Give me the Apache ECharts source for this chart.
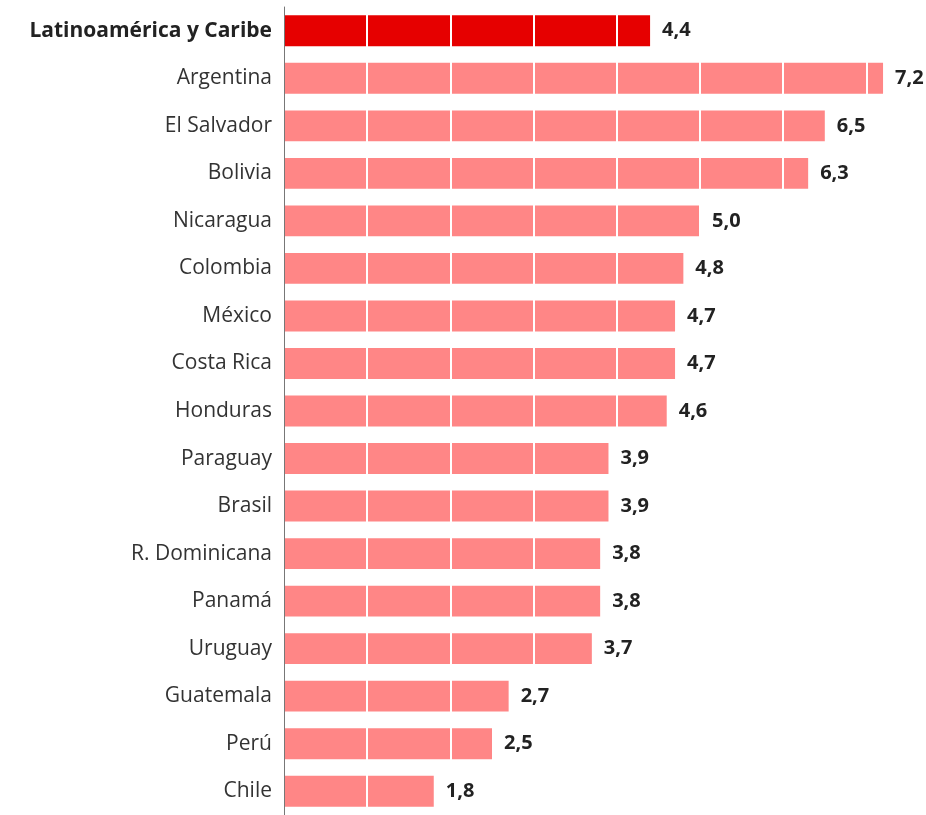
<!DOCTYPE html>
<html>
<head>
<meta charset="utf-8">
<script src="https://cdn.jsdelivr.net/npm/echarts@6/dist/echarts.min.js"></script>
<style>
html,body{margin:0;padding:0;background:#fff;}
#chart{width:926px;height:815px;}
</style>
</head>
<body>
<div id="chart"></div>
<script>
const categories = ["Latinoamérica y Caribe","Argentina","El Salvador","Bolivia","Nicaragua","Colombia","México","Costa Rica","Honduras","Paraguay","Brasil","R. Dominicana","Panamá","Uruguay","Guatemala","Perú","Chile"];
const values = [4.4,7.2,6.5,6.3,5.0,4.8,4.7,4.7,4.6,3.9,3.9,3.8,3.8,3.7,2.7,2.5,1.8];
const highlightIndex = 0;

const chart = echarts.init(document.getElementById('chart'));
const fontFam = '"Open Sans", "Noto Sans", sans-serif';
chart.setOption({
  animation: false,
  backgroundColor: '#ffffff',
  grid: { left: 284, top: 7, height: 815, width: 624 },
  xAxis: {
    type: 'value', min: 0, max: 7.5, interval: 1, z: 10,
    axisLine: { show: false }, axisTick: { show: false }, axisLabel: { show: false },
    splitLine: { show: true, lineStyle: { color: '#ffffff', width: 2 } }
  },
  yAxis: {
    type: 'category', data: categories, inverse: true, z: 12,
    axisLine: { show: true, lineStyle: { color: '#777777', width: 1 } },
    axisTick: { show: false },
    axisLabel: {
      margin: 12, color: '#333333', fontSize: 21, fontFamily: fontFam,
      formatter: function (v, i) { return i === highlightIndex ? '{b|' + v + '}' : v; },
      rich: { b: { fontWeight: 'bold', fontSize: 21, color: '#222222', fontFamily: fontFam } }
    }
  },
  series: [{
    type: 'bar', barCategoryGap: '35%', z: 2,
    data: values.map((v, i) => ({ value: v, itemStyle: { color: i === highlightIndex ? '#e60000' : '#ff8686' } }))
  }, {
    type: 'bar', barCategoryGap: '35%', barGap: '-100%', z: 20, silent: true,
    data: values,
    itemStyle: { color: 'rgba(0,0,0,0)' },
    label: {
      show: true, position: 'right', distance: 12, color: '#222222',
      fontWeight: 'bold', fontSize: 20, fontFamily: fontFam,
      formatter: p => p.value.toFixed(1).replace('.', ',')
    }
  }]
});
</script>
</body>
</html>
